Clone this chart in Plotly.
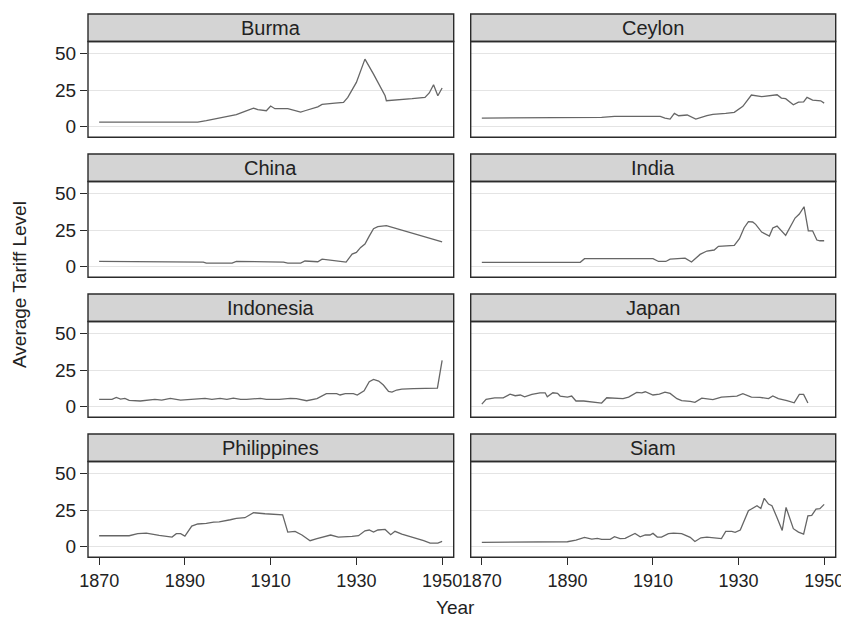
import plotly.graph_objects as go

countries = ["Burma", "Ceylon", "China", "India", "Indonesia", "Japan", "Philippines", "Siam"]

burma_years = [1870, 1893, 1895, 1898, 1902, 1904, 1906, 1907, 1909, 1910, 1911, 1914, 1917, 1918, 1920, 1921, 1922, 1924, 1925, 1927, 1928, 1930, 1932, 1934, 1936.7, 1937, 1940, 1943, 1946, 1947, 1948, 1949, 1950]
burma_vals = [3.2, 3.2, 4.1, 5.9, 8.2, 10.5, 12.7, 11.6, 10.9, 14.1, 12.3, 12.3, 10.0, 10.9, 12.7, 13.6, 15.2, 15.5, 16.1, 16.6, 20.0, 30.2, 46.1, 35.9, 21.1, 17.7, 18.2, 19.1, 20.0, 23.0, 28.6, 21.1, 26.4]

ceylon_years = [1870, 1892, 1893, 1898, 1901, 1911.7, 1912.8, 1914, 1915, 1916, 1918, 1920, 1922.6, 1924, 1927, 1929, 1931, 1933, 1935.4, 1936.6, 1939, 1940, 1941, 1942.8, 1944, 1945.2, 1946, 1947.3, 1949.2, 1950]
ceylon_vals = [5.9, 5.9, 6.4, 6.4, 7.0, 7.0, 5.9, 5.2, 9.1, 7.5, 8.0, 5.2, 7.5, 8.4, 9.1, 9.8, 13.9, 21.6, 20.5, 21.1, 21.8, 19.5, 19.1, 15.0, 16.8, 17.0, 20.0, 18.2, 17.7, 16.1]

china_years = [1870, 1880, 1881, 1894.3, 1895, 1901, 1902, 1906.8, 1908, 1913, 1914, 1917, 1918, 1920, 1921, 1922, 1924, 1926, 1927.6, 1929, 1930, 1931, 1932, 1933, 1934, 1935, 1937, 1950]
china_vals = [3.6, 3.6, 3.2, 3.2, 2.5, 2.5, 3.6, 3.6, 3.2, 3.2, 2.5, 2.5, 3.9, 3.4, 3.4, 5.2, 4.5, 4.1, 3.2, 8.6, 9.8, 13.2, 15.5, 20.9, 25.9, 27.3, 28.0, 17.0]

india_years = [1870, 1893, 1894, 1910, 1911.3, 1913, 1914, 1916, 1917.5, 1919, 1921, 1922.6, 1924.3, 1925.3, 1927, 1929, 1930.2, 1931.3, 1932.3, 1933.3, 1934, 1935.4, 1937.2, 1938, 1939, 1941, 1943.2, 1944.2, 1945.3, 1946.3, 1947.3, 1948.3, 1949, 1950]
india_vals = [3.0, 3.0, 5.5, 5.5, 3.6, 3.6, 5.2, 5.5, 5.9, 3.2, 8.4, 10.7, 11.4, 13.9, 14.1, 14.5, 19.1, 26.6, 30.7, 30.5, 28.9, 23.6, 20.9, 26.4, 27.7, 21.4, 33.2, 35.9, 40.9, 24.5, 24.5, 18.2, 17.7, 17.7]

indonesia_years = [1870, 1873, 1874, 1875, 1876, 1877, 1879.6, 1881, 1883, 1884.6, 1886.6, 1889, 1892, 1894.7, 1896.3, 1898.2, 1899.8, 1901.3, 1903, 1904.4, 1907.6, 1909, 1912, 1914.6, 1916, 1918.4, 1920.8, 1923, 1925.4, 1926.2, 1927.4, 1929.3, 1930.2, 1931.8, 1933, 1934, 1935.2, 1936.3, 1937.5, 1938.3, 1939.4, 1940.6, 1943.3, 1948.9, 1950]
indonesia_vals = [5.0, 5.0, 6.4, 5.2, 5.7, 4.3, 3.9, 4.5, 5.0, 4.5, 5.7, 4.5, 5.0, 5.7, 5.0, 5.7, 5.0, 5.9, 5.0, 5.0, 5.7, 5.0, 5.0, 5.7, 5.5, 4.1, 5.5, 8.9, 8.9, 8.0, 8.9, 8.9, 8.0, 10.9, 17.0, 18.6, 17.5, 14.8, 10.5, 10.0, 11.4, 12.0, 12.3, 12.7, 31.6]

japan_years = [1870, 1871, 1873, 1875, 1876.6, 1877.8, 1879, 1880, 1881.7, 1883.6, 1884.8, 1885.3, 1886.6, 1887.7, 1888.3, 1890, 1891, 1892, 1893.8, 1896, 1898, 1899.2, 1901.5, 1903, 1904.3, 1906.2, 1907.4, 1908.2, 1910, 1911.5, 1912.8, 1914, 1915.6, 1916.7, 1918.7, 1919.8, 1921.4, 1922.9, 1924, 1926, 1927.2, 1929.6, 1931, 1933, 1935, 1937, 1938, 1939.3, 1941.3, 1943, 1944.2, 1945.2, 1946.2]
japan_vals = [1.8, 5.0, 6.1, 6.1, 8.6, 7.5, 8.0, 6.8, 8.4, 9.5, 9.5, 6.8, 9.5, 9.1, 7.3, 6.6, 7.3, 3.9, 3.9, 3.2, 2.5, 6.1, 5.9, 5.5, 6.6, 9.8, 9.5, 10.2, 8.0, 8.6, 10.0, 9.1, 5.5, 4.1, 3.6, 3.0, 5.9, 5.0, 4.8, 6.6, 7.0, 7.3, 8.9, 6.6, 6.4, 5.5, 7.3, 5.5, 4.1, 2.7, 8.4, 8.4, 2.5]

philippines_years = [1870, 1877, 1879, 1881, 1884, 1887, 1888, 1889, 1890, 1891.6, 1893, 1895, 1896.7, 1898, 1900.6, 1902, 1904, 1906, 1908.7, 1911, 1912.8, 1914, 1915.7, 1917.3, 1919.2, 1920.8, 1922.7, 1924, 1925.8, 1927.8, 1929, 1930.5, 1932, 1933, 1934, 1935, 1936.7, 1938, 1939, 1940.6, 1943.3, 1945.7, 1947.2, 1949, 1950]
philippines_vals = [7.5, 7.5, 8.9, 9.3, 7.7, 6.6, 8.9, 8.9, 7.3, 14.1, 15.5, 15.9, 16.8, 17.0, 18.4, 19.3, 19.8, 23.2, 22.5, 22.0, 21.8, 10.0, 10.5, 8.0, 4.1, 5.5, 7.3, 8.0, 6.6, 6.6, 7.0, 7.5, 10.9, 11.4, 10.0, 11.4, 11.8, 8.2, 10.5, 8.6, 6.4, 4.1, 2.5, 2.5, 3.6]

siam_years = [1870, 1888.3, 1890, 1892, 1894, 1895.7, 1897, 1898, 1900, 1901, 1902.3, 1903.5, 1905.8, 1907, 1908.2, 1909.3, 1910, 1911, 1912, 1913.6, 1914.8, 1916.7, 1918.7, 1919.8, 1921.2, 1922.6, 1923.7, 1926, 1927, 1928.4, 1929.2, 1930.4, 1932.3, 1933.5, 1934.3, 1935.2, 1936, 1937, 1937.8, 1938.9, 1940.2, 1941.1, 1942.8, 1944, 1945.2, 1946.2, 1947.1, 1948.1, 1949, 1950]
siam_vals = [3.0, 3.0, 3.4, 4.5, 6.4, 5.2, 5.7, 5.0, 5.0, 6.8, 5.5, 5.7, 9.1, 6.8, 8.0, 8.0, 9.1, 6.6, 6.6, 8.9, 9.3, 8.9, 6.4, 3.6, 6.1, 6.6, 6.1, 5.5, 10.5, 10.5, 9.8, 11.4, 24.5, 26.6, 28.0, 26.1, 33.0, 29.1, 28.0, 20.5, 11.1, 26.8, 12.3, 10.0, 8.6, 21.1, 21.4, 25.7, 25.9, 28.9]

series_years = [burma_years, ceylon_years, china_years, india_years, indonesia_years, japan_years, philippines_years, siam_years]
series_vals = [burma_vals, ceylon_vals, china_vals, india_vals, indonesia_vals, japan_vals, philippines_vals, siam_vals]

x_ticks = [1870, 1890, 1910, 1930, 1950]
y_ticks = [0, 25, 50]
x_title = "Year"
y_title = "Average Tariff Level"

# page body has an 8px margin: figure occupies viewport pixels 8..849 x 8..623
OFF = 8.0
W, H = 841, 615
FONT = "Liberation Sans, Arial, sans-serif"
EDGE = "#2b2b2b"
TXT = "#222222"
FS = 20
TICK_FS = 18

col_px = [(88.0 - OFF, 453.7 - OFF), (470.7 - OFF, 835.7 - OFF)]
strip_top0, plot_top0, plot_bot0, row_step = 14.0 - OFF, 41.5 - OFF, 137.3 - OFF, 140.0

fig = go.Figure()
layout = dict(
    width=W, height=H,
    margin=dict(l=0, r=0, t=0, b=0, autoexpand=False),
    paper_bgcolor="white", plot_bgcolor="white",
    showlegend=False,
    font=dict(family=FONT, color=TXT, size=FS),
)
shapes = []
annotations = []

for i, name in enumerate(countries):
    r, c = divmod(i, 2)
    x0, x1 = col_px[c]
    st = strip_top0 + row_step * r
    pt = plot_top0 + row_step * r
    pb = plot_bot0 + row_step * r
    xd = [x0 / W, x1 / W]
    yd = [1 - pb / H, 1 - pt / H]
    k = "" if i == 0 else str(i + 1)
    layout["xaxis" + k] = dict(
        domain=xd, anchor="y" + k, range=[1867.4, 1952.7], automargin=False,
        showgrid=False, zeroline=False, showline=False,
        tickmode="array", tickvals=x_ticks,
        showticklabels=(r == 3),
        ticks="outside" if r == 3 else "", ticklen=7, tickwidth=1.3, tickcolor=EDGE,
        tickfont=dict(size=TICK_FS, color=TXT, family=FONT),
    )
    layout["yaxis" + k] = dict(
        domain=yd, anchor="x" + k, range=[-7.2, 58.1], automargin=False,
        showgrid=True, gridcolor="#e4e4e4", gridwidth=1, zeroline=False, showline=False,
        tickmode="array", tickvals=y_ticks,
        showticklabels=(c == 0),
        ticks="outside" if c == 0 else "", ticklen=7, tickwidth=1.3, tickcolor=EDGE,
        tickfont=dict(size=19, color=TXT, family=FONT),
    )
    fig.add_trace(go.Scatter(
        x=series_years[i], y=series_vals[i], mode="lines",
        line=dict(color="#666666", width=1.3),
        xaxis="x" + k, yaxis="y" + k, hoverinfo="skip",
    ))
    shapes.append(dict(type="rect", xref="paper", yref="paper",
                       x0=xd[0], x1=xd[1], y0=1 - pt / H, y1=1 - st / H,
                       fillcolor="#d4d4d4", line=dict(color=EDGE, width=1.4), layer="below"))
    shapes.append(dict(type="rect", xref="paper", yref="paper",
                       x0=xd[0], x1=xd[1], y0=yd[0], y1=yd[1],
                       fillcolor="rgba(0,0,0,0)", line=dict(color=EDGE, width=1.4), layer="above"))
    annotations.append(dict(text=name, xref="paper", yref="paper",
                            x=(xd[0] + xd[1]) / 2, y=1 - (st + pt) / 2 / H,
                            xanchor="center", yanchor="middle", showarrow=False,
                            font=dict(size=FS, color=TXT, family=FONT)))

annotations.append(dict(text=x_title, xref="paper", yref="paper",
                        x=(455 - OFF) / W, y=1 - (607 - OFF) / H, xanchor="center", yanchor="middle",
                        showarrow=False, font=dict(size=19, color=TXT, family=FONT)))
annotations.append(dict(text=y_title, xref="paper", yref="paper",
                        x=(19 - OFF) / W, y=1 - (285 - OFF) / H, xanchor="center", yanchor="middle",
                        textangle=-90, showarrow=False,
                        font=dict(size=19, color=TXT, family=FONT)))

layout["shapes"] = shapes
layout["annotations"] = annotations
fig.update_layout(**layout)
fig.write_html("out.html")
